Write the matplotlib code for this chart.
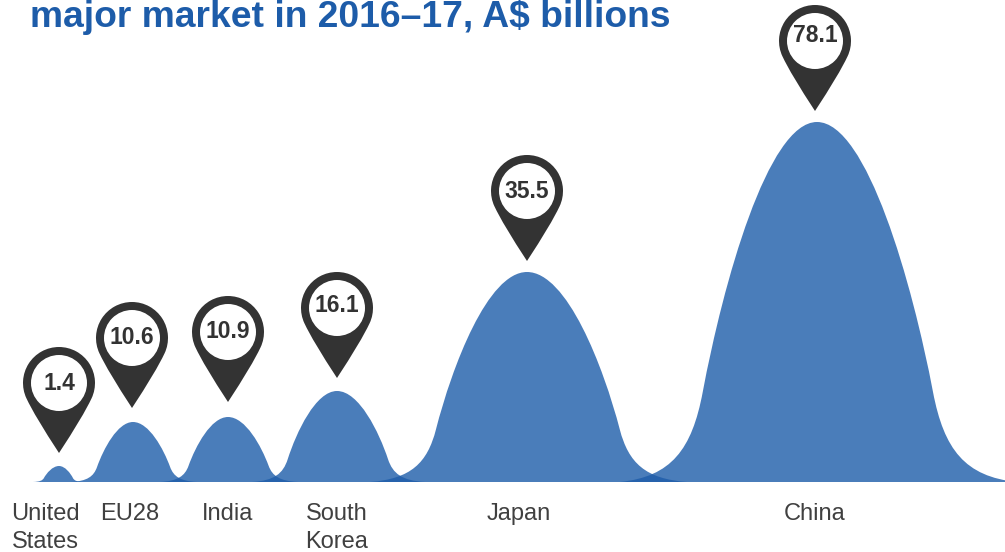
import matplotlib
matplotlib.use('Agg')
import matplotlib.pyplot as plt
import numpy as np
from matplotlib.patches import Circle, PathPatch
from matplotlib.path import Path
from matplotlib.transforms import Affine2D

plt.rcParams['font.family'] = ['Liberation Sans', 'DejaVu Sans']

title = 'major market in 2016–17, A$ billions'
markets = ['United\nStates', 'EU28', 'India', 'South\nKorea', 'Japan', 'China']
exports = [1.4, 10.6, 10.9, 16.1, 35.5, 78.1]

# layout in pixels, one entry per market
hill_x = [59, 133, 228, 337, 527, 817]
hill_left = [26, 62, 68, 85, 157, 197]
hill_right = [24, 64, 70, 88, 160, 200]
pin_gap = [13, 14, 15, 13, 11, 11]
pin_dx = [0, -1, 0, 0, 0, -2]
label_dy = [0, 0, 0, 2, 0, 5]
market_x = [45, 130, 228, 337, 519, 815]

BLUE = '#1d5ca9'
DARK = '#333333'
WIDTH, HEIGHT, BASELINE = 1005, 552, 482
PIN_R, PIN_HOLE, PIN_DIST = 36, 28, 70

# y scale: hill height in pixels for a given export value
scale_values = [0, 1.4, 10.6, 10.9, 16.1, 35.5, 78.1, 110]
scale_heights = [0, 16, 60, 65, 91, 210, 360, 500]

# one flank of a hill as two cubic segments, foot to summit, in units of half width / height
FLANK = [(1, 0), (0.74, 0.015), (0.635, 0.09), (0.58, 0.25), (0.477, 0.55), (0.25, 1), (0, 1)]


def to_height(v):
    return np.interp(v, scale_values, scale_heights)


def to_value(h):
    return np.interp(h, scale_heights, scale_values)


def hill_path(x, left, right, top):
    top_h = to_height(top)
    verts = [(x - left * u, to_value(f * top_h)) for u, f in FLANK]
    verts += [(x + right * u, to_value(f * top_h)) for u, f in FLANK[-2::-1]]
    verts.append(verts[0])
    codes = [Path.MOVETO] + [Path.CURVE4] * 12 + [Path.CLOSEPOLY]
    return Path(verts, codes)


def pin_path():
    # circular head whose sides leave the circle on a tangent and bow in to the tip at the origin
    phi = 65
    rad = np.radians(phi)
    arc = Path.arc(270 + phi, 270 - phi + 360)
    head = arc.vertices * PIN_R + [0, PIN_DIST]
    side = 20 * np.array([np.cos(rad), np.sin(rad)])
    right_ctrl = head[0] - side
    left_ctrl = head[-1] + [side[0], -side[1]]
    verts = np.vstack([head, left_ctrl, [0, 0], right_ctrl, head[0], head[0]])
    codes = list(arc.codes) + [Path.CURVE3, Path.CURVE3, Path.CURVE3, Path.CURVE3, Path.CLOSEPOLY]
    return Path(verts, codes)


fig = plt.figure(figsize=(WIDTH / 100, HEIGHT / 100), dpi=100)
ax = fig.add_axes([0, (HEIGHT - BASELINE) / HEIGHT, 1, BASELINE / HEIGHT])
ax.set_yscale('function', functions=(to_height, to_value))
ax.set_xlim(0, WIDTH)
ax.set_ylim(0, to_value(BASELINE))
ax.axis('off')

for i, value in enumerate(exports):
    ax.add_patch(PathPatch(hill_path(hill_x[i], hill_left[i], hill_right[i], value),
                           facecolor=BLUE, edgecolor='none', alpha=0.8))

fig.canvas.draw()
for i, value in enumerate(exports):
    px, py = ax.transData.transform((hill_x[i], value))
    px += pin_dx[i]
    py += pin_gap[i]
    tip = Affine2D().translate(px, py)
    fig.add_artist(PathPatch(pin_path(), facecolor=DARK, edgecolor='none', transform=tip))
    fig.add_artist(Circle((0, PIN_DIST), PIN_HOLE, facecolor='white', edgecolor='none', transform=tip))
    fig.text(px / WIDTH, (py + PIN_DIST + label_dy[i]) / HEIGHT, f'{value}', ha='center', va='center',
             fontsize=16.5, fontweight='bold', color=DARK)

for name, x in zip(markets, market_x):
    fig.text(x / WIDTH, 1 - 503 / HEIGHT, name, ha='center', va='top', fontsize=17,
             color='#404040', linespacing=1.33)

fig.text(30 / WIDTH, 1 - 27 / HEIGHT, title, ha='left', va='baseline', fontsize=26.8,
         fontweight='bold', color=BLUE)

fig.savefig('out.png', dpi=100)
